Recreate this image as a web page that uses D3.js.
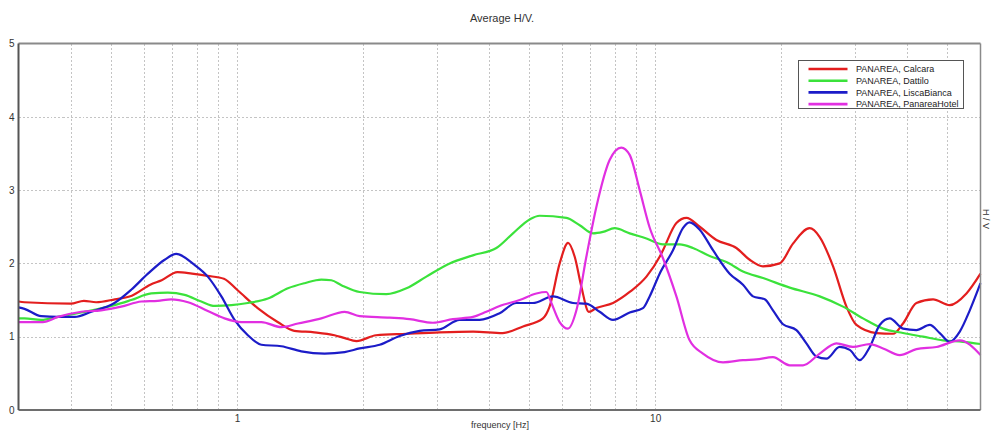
<!DOCTYPE html>
<html>
<head>
<meta charset="utf-8">
<script src="https://cdn.jsdelivr.net/npm/d3@7/dist/d3.min.js"></script>
<style>
  html, body { margin: 0; padding: 0; background: #fff; }
  svg { display: block; font-family: Arial, "Liberation Sans", sans-serif; }
</style>
</head>
<body>
<svg id="chart" width="991" height="431"></svg>
<script>
// H/V spectral ratio curves, Panarea stations: [frequency Hz, H/V]
const calcara = [
  [0.30,1.48],[0.31,1.47],[0.40,1.45],[0.43,1.49],[0.46,1.47],[0.51,1.51],[0.56,1.56],
  [0.62,1.71],[0.66,1.77],[0.72,1.88],[0.78,1.86],[0.85,1.83],[0.93,1.79],[1.0,1.64],
  [1.12,1.39],[1.25,1.20],[1.37,1.08],[1.53,1.06],[1.71,1.02],[1.81,0.98],[1.93,0.94],
  [2.15,1.02],[2.54,1.04],[3.05,1.06],[3.67,1.07],[4.32,1.05],[4.83,1.14],[5.39,1.25],
  [5.59,1.41],[5.91,2.0],[6.19,2.28],[6.42,2.09],[6.66,1.68],[6.94,1.34],[7.23,1.39],
  [7.93,1.46],[8.69,1.61],[9.53,1.82],[10.25,2.09],[10.44,2.18],[11.24,2.55],[11.88,2.62],
  [12.78,2.50],[14.01,2.32],[15.64,2.21],[16.83,2.05],[18.11,1.96],[19.86,2.0],[21.36,2.27],
  [23.42,2.48],[24.75,2.36],[26.64,1.96],[28.68,1.41],[30.3,1.16],[33.82,1.05],[37.06,1.04],
  [39.16,1.18],[42.16,1.46],[46.19,1.51],[50.64,1.43],[55.53,1.59],[60,1.86]
];
const dattilo = [
  [0.30,1.25],[0.31,1.25],[0.34,1.23],[0.373,1.27],[0.424,1.33],[0.509,1.43],[0.558,1.50],
  [0.623,1.59],[0.683,1.60],[0.749,1.57],[0.821,1.48],[0.884,1.42],[0.969,1.43],[1.061,1.46],
  [1.185,1.52],[1.323,1.66],[1.45,1.73],[1.59,1.78],[1.68,1.77],[1.78,1.70],[1.964,1.61],
  [2.275,1.58],[2.541,1.66],[2.836,1.82],[3.224,2.0],[3.665,2.11],[4.17,2.21],[4.569,2.41],
  [5.009,2.60],[5.293,2.65],[6.134,2.62],[6.599,2.52],[7.099,2.41],[7.5,2.43],[8.0,2.48],
  [8.69,2.41],[9.53,2.34],[10.44,2.26],[11.45,2.26],[12.31,2.21],[13.5,2.10],[14.8,2.02],
  [16.22,1.89],[18.11,1.80],[20.98,1.67],[24.75,1.55],[28.14,1.41],[31.41,1.25],[35.08,1.11],
  [39.16,1.05],[43.73,1.0],[48.83,0.95],[54.51,0.93],[60,0.90]
];
const liscaBianca = [
  [0.30,1.40],[0.31,1.38],[0.34,1.28],[0.373,1.27],[0.409,1.27],[0.448,1.34],[0.509,1.46],
  [0.558,1.64],[0.612,1.86],[0.671,2.05],[0.715,2.13],[0.791,1.98],[0.851,1.82],[0.917,1.55],
  [0.986,1.23],[1.061,1.02],[1.143,0.89],[1.276,0.87],[1.424,0.80],[1.619,0.77],[1.808,0.79],
  [1.964,0.84],[2.193,0.89],[2.447,1.01],[2.733,1.08],[3.05,1.10],[3.406,1.23],[3.803,1.23],
  [4.246,1.32],[4.655,1.46],[5.102,1.46],[5.695,1.55],[6.36,1.46],[6.845,1.45],[7.365,1.34],
  [7.925,1.23],[8.69,1.33],[9.35,1.39],[9.70,1.55],[10.25,1.86],[11.03,2.18],[11.65,2.48],
  [12.09,2.56],[12.78,2.46],[13.75,2.18],[15.07,1.86],[16.22,1.71],[17.14,1.55],[18.28,1.51],
  [19.13,1.36],[20.22,1.17],[21.77,1.09],[23.0,0.91],[24.3,0.73],[25.68,0.70],[27.63,0.86],
  [29.2,0.82],[30.85,0.68],[32.61,0.86],[34.44,1.16],[36.39,1.25],[39.16,1.11],[42.16,1.09],
  [45.37,1.16],[47.94,1.05],[50.64,0.93],[53.53,1.07],[56.56,1.36],[60,1.73]
];
const panareaHotel = [
  [0.30,1.20],[0.31,1.20],[0.343,1.20],[0.373,1.27],[0.424,1.34],[0.473,1.36],[0.528,1.41],
  [0.59,1.48],[0.646,1.49],[0.696,1.51],[0.763,1.47],[0.851,1.35],[0.933,1.25],[1.023,1.20],
  [1.143,1.20],[1.276,1.13],[1.398,1.18],[1.59,1.25],[1.808,1.34],[1.964,1.28],[2.317,1.26],
  [2.586,1.24],[2.94,1.19],[3.283,1.24],[3.665,1.27],[3.946,1.34],[4.246,1.42],[4.741,1.50],
  [5.197,1.59],[5.492,1.61],[5.646,1.46],[5.909,1.20],[6.186,1.11],[6.48,1.36],[6.845,2.09],
  [7.233,2.77],[7.782,3.41],[8.299,3.58],[8.69,3.48],[9.182,3.0],[9.70,2.49],[10.44,2.07],
  [11.24,1.55],[12.09,0.95],[13.01,0.77],[14.53,0.65],[16.22,0.68],[17.46,0.69],[19.13,0.72],
  [20.98,0.61],[22.58,0.61],[24.75,0.77],[27.13,0.91],[29.73,0.86],[32.61,0.90],[35.08,0.84],
  [38.46,0.75],[42.16,0.83],[47.09,0.86],[53.53,0.95],[60,0.75]
];

const seriesNames = ["PANAREA, Calcara", "PANAREA, Dattilo", "PANAREA, LiscaBianca", "PANAREA, PanareaHotel"];
const seriesColors = ["#e31e1e", "#3be23b", "#1c1cc8", "#e12fe1"];
const seriesData = [calcara, dattilo, liscaBianca, panareaHotel];

const yTicks = [0, 1, 2, 3, 4, 5];
const yGrid = [1, 2, 3, 4];
const xLabelTicks = [1, 10];
const xGrid = [0.4, 0.5, 0.6, 0.7, 0.8, 0.9, 1, 2, 3, 4, 5, 6, 7, 8, 9, 10, 20, 30, 40, 50];

const titleText = "Average H/V.";
const xTitle = "frequency [Hz]";
const yTitle = "H / V";

const svg = d3.select("#chart");
const plot = { left: 18.5, right: 980.5, top: 43.5, bottom: 410 };

const x = d3.scaleLog().domain([0.3, 60]).range([plot.left, plot.right]);
const y = d3.scaleLinear().domain([0, 5]).range([plot.bottom, plot.top]);

// dotted grid
const grid = svg.append("g").attr("stroke", "#c4c4c4").attr("stroke-width", 1)
  .attr("stroke-dasharray", "2,2").attr("shape-rendering", "crispEdges");
grid.selectAll("line.v").data(xGrid).join("line").attr("class", "v")
  .attr("x1", d => Math.round(x(d)) + 0.5).attr("x2", d => Math.round(x(d)) + 0.5)
  .attr("y1", plot.top).attr("y2", plot.bottom);
grid.selectAll("line.h").data(yGrid).join("line").attr("class", "h")
  .attr("x1", plot.left).attr("x2", plot.right)
  .attr("y1", d => Math.round(y(d)) + 0.5).attr("y2", d => Math.round(y(d)) + 0.5);

// curves
const line = d3.line().x(d => x(d[0])).y(d => y(d[1])).curve(d3.curveMonotoneX);
svg.append("g").selectAll("path").data(seriesData).join("path")
  .attr("d", line).attr("fill", "none")
  .attr("stroke", (d, i) => seriesColors[i]).attr("stroke-width", 2.2)
  .attr("stroke-linejoin", "round");

// frame
const frame = svg.append("g").attr("fill", "none");
frame.append("line").attr("x1", plot.left).attr("x2", plot.right).attr("y1", plot.top).attr("y2", plot.top)
  .attr("stroke", "#8a8a8a").attr("stroke-width", 2);
frame.append("line").attr("x1", plot.right).attr("x2", plot.right).attr("y1", plot.top).attr("y2", plot.bottom)
  .attr("stroke", "#8a8a8a").attr("stroke-width", 1.5);
frame.append("line").attr("x1", plot.left).attr("x2", plot.right).attr("y1", plot.bottom).attr("y2", plot.bottom)
  .attr("stroke", "#6e6e6e").attr("stroke-width", 2);
frame.append("line").attr("x1", plot.left).attr("x2", plot.left).attr("y1", plot.top).attr("y2", plot.bottom)
  .attr("stroke", "#555").attr("stroke-width", 2);

// axes
const yAxis = svg.append("g").attr("transform", `translate(${plot.left},0)`)
  .call(d3.axisLeft(y).tickValues(yTicks).tickSize(0).tickPadding(4).tickFormat(d3.format("d")));
yAxis.select(".domain").remove();
yAxis.selectAll("text").attr("font-size", 10).attr("fill", "#333").attr("font-family", "Arial, 'Liberation Sans', sans-serif");

const xAxis = svg.append("g").attr("transform", `translate(0,${plot.bottom})`)
  .call(d3.axisBottom(x).tickValues(xLabelTicks).tickSize(0).tickPadding(5).tickFormat(d3.format("d")));
xAxis.select(".domain").remove();
xAxis.selectAll("text").attr("font-size", 10).attr("fill", "#333").attr("font-family", "Arial, 'Liberation Sans', sans-serif");

// titles
svg.append("text").attr("x", 502).attr("y", 22).attr("text-anchor", "middle")
  .attr("font-size", 11).attr("fill", "#333").text(titleText);
svg.append("text").attr("x", 500).attr("y", 428).attr("text-anchor", "middle")
  .attr("font-size", 9).attr("fill", "#333").text(xTitle);
svg.append("text").attr("transform", "translate(983,219) rotate(90)").attr("text-anchor", "middle")
  .attr("font-size", 9).attr("fill", "#333").text(yTitle);

// legend
const legend = svg.append("g").attr("transform", "translate(798.5,60.5)");
legend.append("rect").attr("width", 165).attr("height", 48).attr("fill", "#fff")
  .attr("stroke", "#555").attr("stroke-width", 1);
const items = legend.selectAll("g").data(seriesNames).join("g")
  .attr("transform", (d, i) => `translate(0,${8.5 + i * 11.7})`);
items.append("line").attr("x1", 10).attr("x2", 49).attr("y1", 0).attr("y2", 0)
  .attr("stroke", (d, i) => seriesColors[i]).attr("stroke-width", 2.6);
items.append("text").attr("x", 57.5).attr("y", 3.3).attr("font-size", 9).attr("fill", "#222")
  .text(d => d);
</script>
</body>
</html>
